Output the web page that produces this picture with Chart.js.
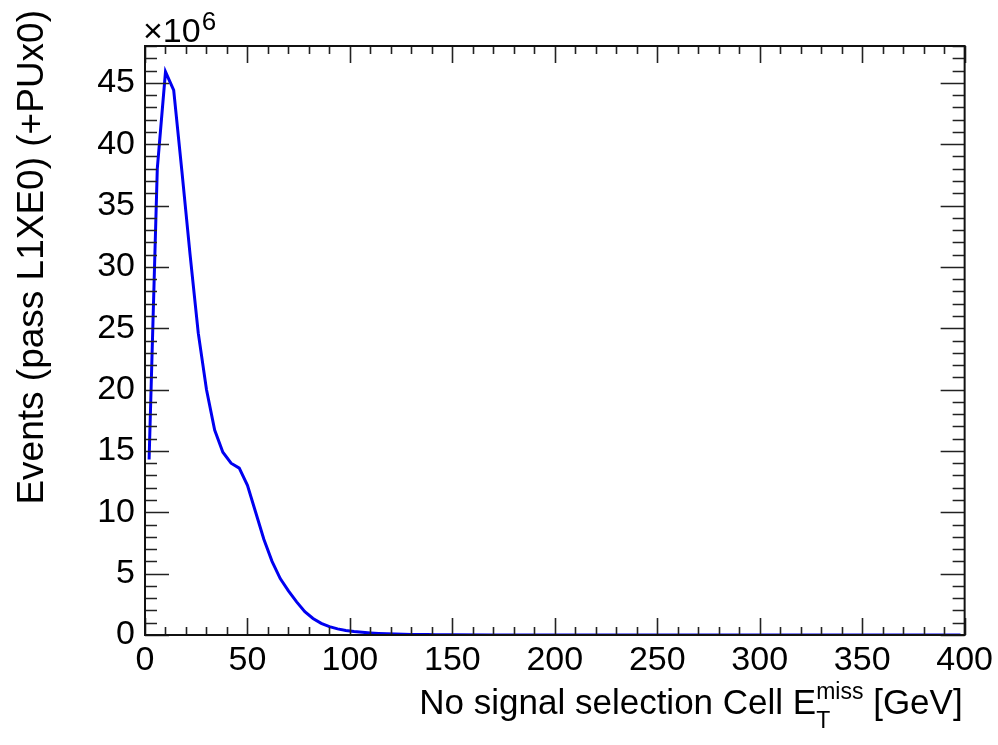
<!DOCTYPE html>
<html>
<head>
<meta charset="utf-8">
<script src="https://cdn.jsdelivr.net/npm/chart.js@4"></script>
<style>
  html, body { margin: 0; padding: 0; background: #fff; }
  #chart { display: block; }
</style>
</head>
<body>
<canvas id="chart" width="998" height="745"></canvas>
<script>
// Bin centres (GeV) and event counts (units of 10^6)
const binCenters = [2, 6, 10, 14, 18, 22, 26, 30, 34, 38, 42, 46, 50, 54, 58, 62, 66, 70, 74, 78,
    82, 86, 90, 94, 98, 102, 106, 110, 114, 118, 122, 126, 130, 134, 138, 142, 146, 150,
    170, 202, 250, 302, 350, 398];
const eventsMillions = [14.3, 38.0, 45.9, 44.4, 37.8, 31.0, 24.6, 20.0, 16.7, 14.9, 14.0, 13.6, 12.2, 10.0, 7.8, 6.0, 4.6, 3.6, 2.7, 1.9,
    1.35, 0.95, 0.68, 0.5, 0.36, 0.28, 0.22, 0.17, 0.13, 0.10, 0.08, 0.06, 0.05, 0.04, 0.035, 0.03, 0.025, 0.02,
    0.01, 0.004, 0.002, 0.001, 0.0, 0.0];

const xTickLabels = [0, 50, 100, 150, 200, 250, 300, 350, 400];
const yTickLabels = [0, 5, 10, 15, 20, 25, 30, 35, 40, 45];

const FONT = '"Liberation Sans", Arial, Helvetica, sans-serif';

// ROOT-style frame with inward ticks on all four sides, plus titles
const rootFrame = {
    id: 'rootFrame',
    afterDraw(chart) {
        const ctx = chart.ctx;
        const area = chart.chartArea;
        const xs = chart.scales.x;
        const ys = chart.scales.y;

        ctx.save();
        ctx.strokeStyle = '#222';
        ctx.lineWidth = 1.6;
        ctx.beginPath();
        // x ticks: minor every 10, major every 50
        for (let v = 0; v <= 400; v += 10) {
            const px = Math.round(xs.getPixelForValue(v)) + 0.5;
            const len = v % 50 === 0 ? 17 : 8;
            ctx.moveTo(px, area.bottom); ctx.lineTo(px, area.bottom - len);
            ctx.moveTo(px, area.top); ctx.lineTo(px, area.top + len);
        }
        // y ticks: minor every 1, major every 5
        for (let v = 0; v <= 48; v += 1) {
            const py = Math.round(ys.getPixelForValue(v)) + 0.5;
            const len = v % 5 === 0 ? 24 : 12;
            ctx.moveTo(area.left, py); ctx.lineTo(area.left + len, py);
            ctx.moveTo(area.right, py); ctx.lineTo(area.right - len, py);
        }
        ctx.stroke();

        ctx.lineWidth = 2;
        ctx.strokeStyle = '#111';
        ctx.strokeRect(area.left, area.top, area.right - area.left, area.bottom - area.top);

        ctx.fillStyle = '#000';

        // x10^6 exponent label
        ctx.textBaseline = 'alphabetic';
        ctx.textAlign = 'left';
        ctx.font = '34px ' + FONT;
        ctx.fillText('\u00d710', 143, 42);
        const w10 = ctx.measureText('\u00d710').width;
        ctx.font = '26px ' + FONT;
        ctx.fillText('6', 143 + w10 + 1, 30);

        // x axis title, right-aligned to the frame
        const big = 35, small = 23;
        const main = 'No signal selection Cell E', sub = 'T', sup = 'miss', tail = ' [GeV]';
        ctx.font = big + 'px ' + FONT;
        const wMain = ctx.measureText(main).width;
        const wTail = ctx.measureText(tail).width;
        ctx.font = small + 'px ' + FONT;
        const wMid = Math.max(ctx.measureText(sub).width, ctx.measureText(sup).width);
        let x = area.right - 2 - (wMain + wMid + wTail);
        const base = 714;
        ctx.font = big + 'px ' + FONT;
        ctx.fillText(main, x, base);
        x += wMain;
        ctx.font = small + 'px ' + FONT;
        ctx.fillText(sub, x, base + 14);
        ctx.fillText(sup, x, base - 15);
        x += wMid;
        ctx.font = big + 'px ' + FONT;
        ctx.fillText(tail, x, base);

        // y axis title, rotated, ending near the top
        ctx.save();
        ctx.translate(43, 10);
        ctx.rotate(-Math.PI / 2);
        ctx.textAlign = 'right';
        ctx.font = '37px ' + FONT;
        ctx.fillText('Events (pass L1XE0) (+PUx0)', 0, 0);
        ctx.restore();

        ctx.restore();
    }
};

const ctx = document.getElementById('chart').getContext('2d');
new Chart(ctx, {
    type: 'line',
    data: {
        datasets: [{
            data: binCenters.map((x, i) => ({ x: x, y: eventsMillions[i] })),
            borderColor: '#0000f0',
            borderWidth: 3,
            pointRadius: 0,
            tension: 0,
            fill: false
        }]
    },
    options: {
        responsive: false,
        animation: false,
        devicePixelRatio: 1,
        layout: { padding: { left: 0, right: 33, top: 46, bottom: 0 } },
        plugins: {
            legend: { display: false },
            tooltip: { enabled: false }
        },
        scales: {
            x: {
                type: 'linear',
                min: 0,
                max: 400,
                grid: { display: false, drawTicks: false },
                border: { display: false },
                afterBuildTicks: s => { s.ticks = xTickLabels.map(v => ({ value: v })); },
                afterFit: s => { s.height = 110; },
                ticks: {
                    autoSkip: false,
                    maxRotation: 0,
                    padding: 5,
                    color: '#000',
                    font: { size: 34, family: FONT }
                }
            },
            y: {
                type: 'linear',
                min: 0,
                max: 48,
                grid: { display: false, drawTicks: false },
                border: { display: false },
                afterBuildTicks: s => { s.ticks = yTickLabels.map(v => ({ value: v })); },
                afterFit: s => { s.width = 145; },
                ticks: {
                    autoSkip: false,
                    padding: 10,
                    color: '#000',
                    font: { size: 34, family: FONT }
                }
            }
        }
    },
    plugins: [rootFrame]
});
</script>
</body>
</html>
